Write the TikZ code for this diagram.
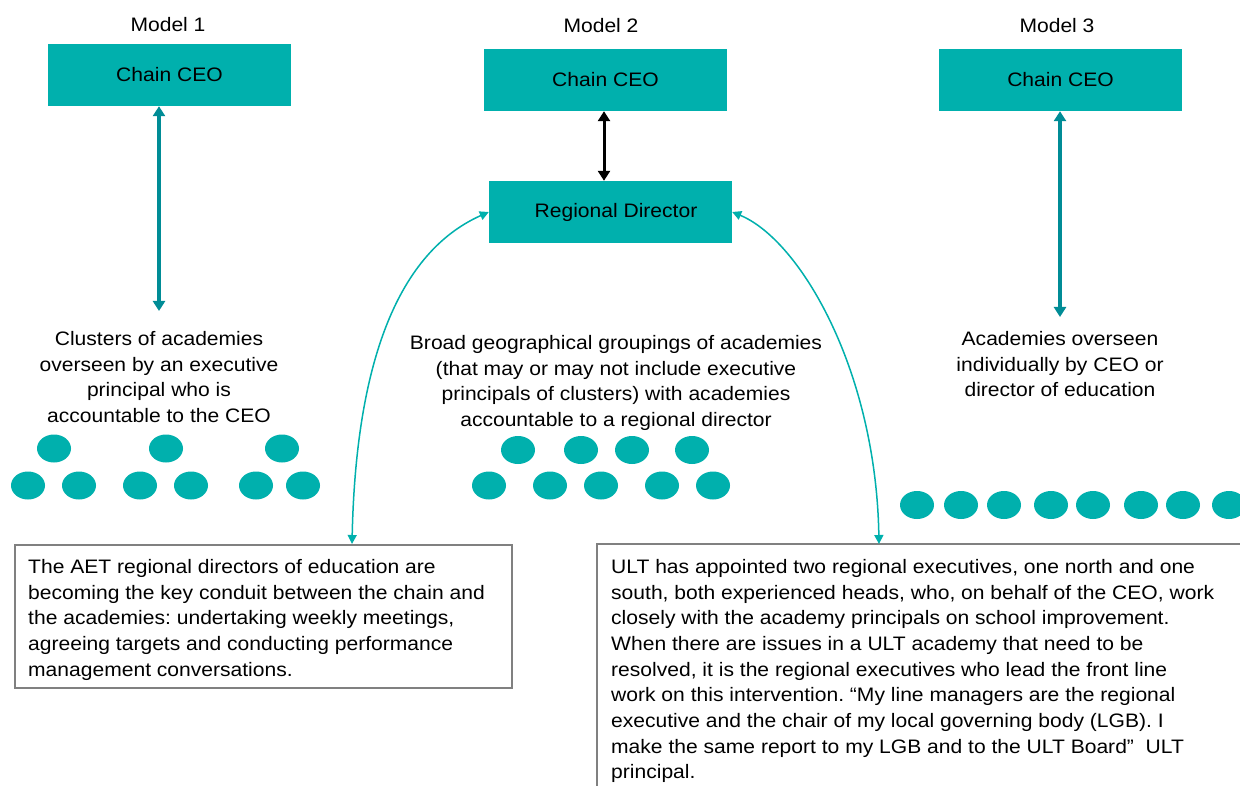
\documentclass[tikz,border=0pt]{standalone}
\usepackage{fontspec}
\setmainfont{Liberation Sans}[FakeStretch=1.08]
\usetikzlibrary{arrows.meta,shapes.geometric}
\definecolor{tealfill}{RGB}{0,176,173}
\definecolor{tealdark}{RGB}{0,140,150}
\definecolor{boxgray}{RGB}{128,128,128}
\frenchspacing
\begin{document}
\begin{tikzpicture}[x=1pt,y=-1pt,
  every node/.style={font=\fontsize{19.5}{25.7}\selectfont, text=black},
  tealbox/.style={fill=tealfill, draw=none, minimum width=243pt, minimum height=62pt, inner sep=0pt},
  dot/.style={ellipse, fill=tealfill, draw=none, minimum width=34pt, minimum height=28pt, inner sep=0pt},
  vline/.style={draw=tealdark, line width=4pt, {Triangle[length=10pt,width=12pt]}-{Triangle[length=10pt,width=12pt]}},
  blackline/.style={draw=black, line width=3pt, {Triangle[length=10pt,width=12pt]}-{Triangle[length=10pt,width=12pt]}},
  curvearrow/.style={draw=tealfill, line width=1.5pt, {Triangle[length=9pt,width=9pt]}-{Triangle[length=9pt,width=9pt]}},
  caption/.style={align=center, inner sep=0pt},
  framebox/.style={draw=boxgray, line width=1.5pt}
]
\useasboundingbox (0,0) rectangle (1240,786);
\fill[white] (0,0) rectangle (1240,786);

% titles
\node (m1) at (168,25) {Model 1};
\node (m2) at (601,26) {Model 2};
\node (m3) at (1057,26) {Model 3};

% boxes
\node[tealbox] (ceo1) at (169.5,75) {Chain CEO};
\node[tealbox] (ceo2) at (605.5,80) {Chain CEO};
\node[tealbox] (rd) at (610.5,212) {\hspace*{11pt}Regional Director};
\node[tealbox] (ceo3) at (1060.5,80) {Chain CEO};

% captions
\node[caption, anchor=north] (c1) at (159,331) {Clusters of academies\\overseen by an executive\\principal who is\\accountable to the CEO};
\node[caption, anchor=north] (c2) at (616,335) {Broad geographical groupings of academies\\(that may or may not include executive\\principals of clusters) with academies\\accountable to a regional director};
\node[caption, anchor=north] (c3) at (1060,331) {Academies overseen\\individually by CEO or\\director of education};

% arrow end points
\coordinate (a1) at (159,311);
\coordinate (a3) at (1060,317);

\draw[vline] (ceo1.south -| a1) -- (a1);
\draw[vline] (ceo3.south -| a3) -- (a3);
\draw[blackline] (ceo2.south -| 604,0) -- (rd.north -| 604,0);

% dots model 1
\foreach \x/\n in {54/a,166/b,282/c} \node[dot] (t1\n) at (\x,448.5) {};
\foreach \x/\n in {28/a,79/b,140/c,191/d,256/e,303/f} \node[dot] (b1\n) at (\x,485.5) {};
% dots model 2
\foreach \x/\n in {518/a,581/b,632/c,692/d} \node[dot] (t2\n) at (\x,450) {};
\foreach \x/\n in {489/a,550/b,601/c,662/d,713/e} \node[dot] (b2\n) at (\x,485.5) {};
% dots model 3
\foreach \x/\n in {917/a,961/b,1004/c,1051/d,1093/e,1141/f,1183/g,1229/h} \node[dot] (r3\n) at (\x,505) {};

% left text box
\node[framebox, anchor=north west, minimum width=497pt, minimum height=143pt, inner sep=0pt] (lbox) at (14,544) {};
\node[anchor=north west, align=left, inner sep=0pt] (ltext) at (28,559)
{The AET regional directors of education are\\becoming the key conduit between the chain and\\the academies: undertaking weekly meetings,\\agreeing targets and conducting performance\\management conversations.};

% right text box (open at right and bottom)
\coordinate (rtl) at (597,544);
\coordinate (rtr) at (1240,544);
\coordinate (rbl) at (597,786);
\draw[framebox] (rtr) -- (rtl) -- (rbl);
\node[anchor=north west, align=left, inner sep=0pt] (rbox) at (611,559)
{ULT has appointed two regional executives, one north and one\\south, both experienced heads, who, on behalf of the CEO, work\\closely with the academy principals on school improvement.\\When there are issues in a ULT academy that need to be\\resolved, it is the regional executives who lead the front line\\work on this intervention. “My line managers are the regional\\executive and the chair of my local governing body (LGB). I\\make the same report to my LGB and to the ULT Board”\ \ ULT\\principal.};

% curved arrows
\coordinate (lt) at (352,544);
\coordinate (rt) at (879,544);
\draw[curvearrow] (lt) .. controls (356,360) and (399,252) .. (rd.west);
\draw[curvearrow] (rt) .. controls (876,370) and (800,240) .. (rd.east);
\end{tikzpicture}
\end{document}
